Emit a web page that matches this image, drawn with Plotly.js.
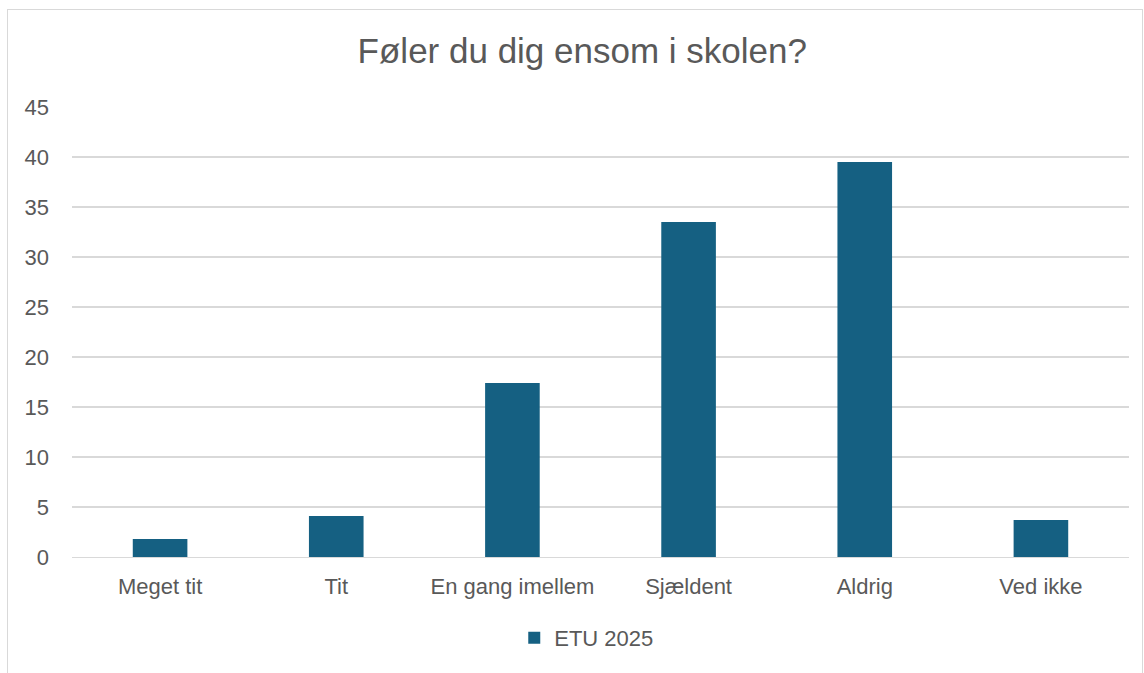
<!DOCTYPE html>
<html>
<head>
<meta charset="utf-8">
<script src="https://cdn.plot.ly/plotly-3.0.1.min.js"></script>
<style>
html,body{margin:0;padding:0;background:#fff;}
#wrap{position:relative;width:1144px;height:673px;overflow:hidden;}
#chart{position:absolute;left:0;top:0;width:1144px;height:673px;}
#frame{position:absolute;left:7px;top:9px;width:1134px;height:700px;border:1px solid #d9d9d9;pointer-events:none;}
</style>
</head>
<body>
<div id="wrap">
<div id="chart"></div>
<div id="frame"></div>
</div>
<script>
const categories = ["Meget tit", "Tit", "En gang imellem", "Sjældent", "Aldrig", "Ved ikke"];
const values = [1.8, 4.1, 17.4, 33.5, 39.5, 3.7];
const seriesName = "ETU 2025";
const yTicks = [0, 5, 10, 15, 20, 25, 30, 35, 40, 45];

const font = "Liberation Sans, Arial, sans-serif";
const data = [{
  type: "bar",
  x: categories,
  y: values,
  name: seriesName,
  marker: {color: "#156082"},
  showlegend: true
}];
const layout = {
  width: 1144, height: 673,
  paper_bgcolor: "rgba(0,0,0,0)",
  plot_bgcolor: "#fff",
  margin: {l: 72, r: 15, t: 107, b: 116},
  bargap: 0.69,
  title: {text: "Føler du dig ensom i skolen?", x: 0.509, xanchor: "center", y: 0.925, yanchor: "middle",
          font: {family: font, size: 35, color: "#595959"}},
  xaxis: {tickfont: {family: font, size: 22, color: "#595959"}, showgrid: false, zeroline: false,
          showline: true, linecolor: "#d9d9d9", ticks: "", ticklabelstandoff: 10},
  yaxis: {range: [0, 45], tickvals: yTicks, tickfont: {family: font, size: 22, color: "#595959"},
          gridcolor: "#d9d9d9", gridwidth: 1.3, zeroline: false, ticks: "", ticklabelstandoff: 22},
  legend: {orientation: "h", x: 0.487, xanchor: "center", y: -0.18, yanchor: "middle",
           font: {family: font, size: 22, color: "#595959"}, itemwidth: 30}
};
Plotly.newPlot("chart", data, layout, {displayModeBar: false, staticPlot: true});
</script>
</body>
</html>
